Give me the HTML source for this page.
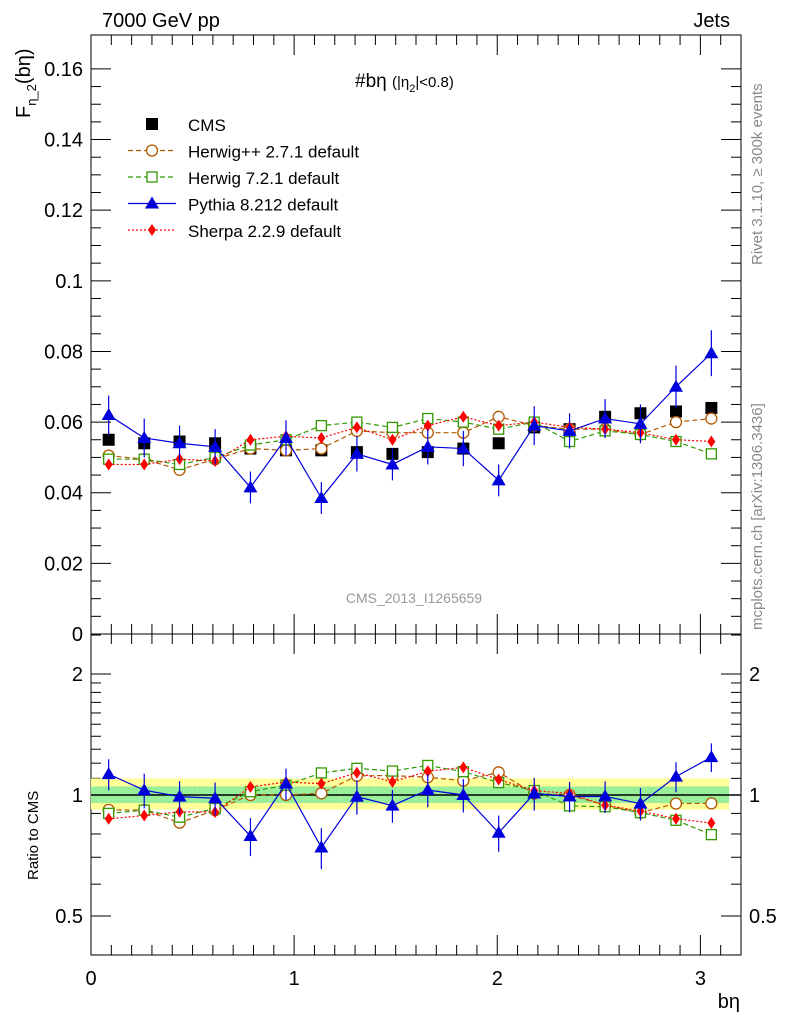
<!DOCTYPE html>
<html><head><meta charset="utf-8"><style>
body{margin:0;background:#fff;}
svg text{font-family:"Liberation Sans",sans-serif;}
</style></head><body>
<svg id="c" width="786" height="1024" xmlns="http://www.w3.org/2000/svg"></svg>
<script>
const xCenters=[0.087,0.262,0.436,0.611,0.785,0.960,1.134,1.309,1.484,1.658,1.833,2.007,2.182,2.356,2.531,2.705,2.880,3.054];
const cmsVals=[0.055,0.054,0.0545,0.054,0.0525,0.052,0.052,0.0515,0.051,0.0515,0.0525,0.054,0.0585,0.058,0.0615,0.0625,0.063,0.064];
const herwigppVals=[0.0505,0.0495,0.0465,0.0495,0.0525,0.052,0.0525,0.0575,0.057,0.057,0.057,0.0615,0.059,0.058,0.058,0.0565,0.060,0.061];
const herwig7Vals=[0.0495,0.0495,0.048,0.050,0.0535,0.055,0.059,0.060,0.0585,0.061,0.060,0.058,0.060,0.0545,0.0575,0.0565,0.0545,0.051];
const pythiaVals=[0.062,0.0555,0.054,0.053,0.0415,0.0555,0.0385,0.051,0.048,0.053,0.0525,0.0435,0.059,0.0575,0.061,0.0595,0.070,0.0795];
const pythiaErr=[0.0055,0.0055,0.005,0.005,0.0045,0.005,0.0045,0.005,0.0045,0.005,0.005,0.0045,0.0055,0.005,0.0055,0.0055,0.006,0.0065];
const sherpaVals=[0.048,0.048,0.0495,0.049,0.055,0.056,0.0555,0.0585,0.055,0.059,0.0615,0.059,0.060,0.0585,0.058,0.057,0.055,0.0545];
const sherpaErr=[0.0012,0.0012,0.0012,0.0012,0.0013,0.0013,0.0013,0.0014,0.0013,0.0014,0.0014,0.0014,0.0014,0.0014,0.0014,0.0014,0.0013,0.0013];
const mainTicks=[0,0.02,0.04,0.06,0.08,0.1,0.12,0.14,0.16];
const mainTickLabels=["0","0.02","0.04","0.06","0.08","0.1","0.12","0.14","0.16"];
const xTicks=[0,1,2,3];
const ratioTicks=[0.5,1,2];

const S=document.getElementById('c');const NS="http://www.w3.org/2000/svg";
function el(t,a,p){const e=document.createElementNS(NS,t);for(const k in a)e.setAttribute(k,a[k]);(p||S).appendChild(e);return e;}
const L=91,R=741,T=35,MB=634,RB=955;
const X=v=>L+v*(R-L)/3.2;
const Y=v=>MB-v*(MB-T)/0.1696;
const YR=v=>795-Math.log2(v)*121;
function txt(x,y,s,a,p){const e=el('text',Object.assign({x:x,y:y},a||{}),p);e.textContent=s;return e;}

// frames
let f=el('rect',{x:L,y:T,width:R-L,height:MB-T,fill:'none',stroke:'#000','stroke-width':1});

f=el('rect',{x:L,y:MB,width:R-L,height:RB-MB,fill:'none',stroke:'#000','stroke-width':1});


// main y ticks
mainTicks.forEach((v,i)=>{el('line',{x1:L,x2:L+20,y1:Y(v),y2:Y(v),stroke:'#000'});el('line',{x1:R,x2:R-20,y1:Y(v),y2:Y(v),stroke:'#000'});
 let t=txt(L-8,Y(v)+7,mainTickLabels[i],{'text-anchor':'end','font-size':20});
 
 if(i<mainTicks.length-1)for(let k=1;k<4;k++){const y=Y(v+0.005*k);el('line',{x1:L,x2:L+10,y1:y,y2:y,stroke:'#000'});el('line',{x1:R,x2:R-10,y1:y,y2:y,stroke:'#000'});}});
// x ticks
for(let v=0;v<=3.2001;v+=0.1){const big=Math.abs(v-Math.round(v))<1e-6,len=big?20:10;
 [[MB,-1],[T,1],[RB,-1]].forEach(([y,d])=>el('line',{x1:X(v),x2:X(v),y1:y,y2:y+d*len,stroke:'#000'}));
 el('line',{x1:X(v),x2:X(v),y1:MB,y2:MB+len,stroke:'#000'});}
xTicks.forEach(v=>{let t=txt(X(v),985,String(v),{'text-anchor':'middle','font-size':20});});
// ratio ticks
[0.4,0.5,0.6,0.7,0.8,0.9,1,1.1,1.2,1.3,1.4,1.5,1.6,1.7,1.8,1.9,2,2.5].forEach(v=>{const big=ratioTicks.includes(v),len=big?20:10;
 el('line',{x1:L,x2:L+len,y1:YR(v),y2:YR(v),stroke:'#000'});el('line',{x1:R,x2:R-len,y1:YR(v),y2:YR(v),stroke:'#000'});});
ratioTicks.forEach(v=>{let t=txt(L-8,YR(v)+7,String(v),{'text-anchor':'end','font-size':20});
 t=txt(R+8,YR(v)+7,String(v),{'font-size':20});});

// ratio bands
const hw=(R-L)/3.2*0.0873;
let gY='',gG='';
xCenters.forEach((x,i)=>{const a=X(x)-hw,b=X(x)+hw;
 let r=el('rect',{x:a,y:YR(1.1),width:b-a,height:YR(0.92)-YR(1.1),fill:'#ffff99'});
 r=el('rect',{x:a,y:YR(1.05),width:b-a,height:YR(0.955)-YR(1.05),fill:'#99ee99'});});
el('line',{x1:L,x2:R,y1:YR(1),y2:YR(1),stroke:'#000','stroke-width':1.5});

function marker(type,x,y,color,p){
 if(type==='sq')return el('rect',{x:x-6,y:y-6,width:12,height:12,fill:'#000'},p);
 if(type==='osq')return el('rect',{x:x-5,y:y-5,width:10,height:10,fill:'#fff',stroke:color,'stroke-width':1.3},p);
 if(type==='oc')return el('circle',{cx:x,cy:y,r:5.5,fill:'#fff',stroke:color,'stroke-width':1.3},p);
 if(type==='tri')return el('polygon',{points:`${x},${y-7} ${x-7},${y+5} ${x+7},${y+5}`,fill:color},p);
 if(type==='dia')return el('polygon',{points:`${x},${y-6} ${x-4},${y} ${x},${y+6} ${x+4},${y}`,fill:color},p);
}
const series=[
 {name:'herwigpp',vals:herwigppVals,err:null,color:'#b35900',m:'oc',dash:'5,3'},
 {name:'herwig7',vals:herwig7Vals,err:null,color:'#339900',m:'osq',dash:'5,3'},
 {name:'sherpa',vals:sherpaVals,err:sherpaErr,color:'#ff0000',m:'dia',dash:'2,2'},
 {name:'pythia',vals:pythiaVals,err:pythiaErr,color:'#0000dd',m:'tri',dash:null}];
function drawSeries(s,ratio){
 const g=el('g',{});
 const yf=ratio?(i=>YR(s.vals[i]/cmsVals[i])):(i=>Y(s.vals[i]));
 const pts=xCenters.map((x,i)=>X(x)+','+yf(i)).join(' ');
 const a={points:pts,fill:'none',stroke:s.color,'stroke-width':1.2};if(s.dash)a['stroke-dasharray']=s.dash;
 el('polyline',a,g);
 xCenters.forEach((x,i)=>{
  if(s.err){const lo=ratio?YR((s.vals[i]-s.err[i])/cmsVals[i]):Y(s.vals[i]-s.err[i]);const hi=ratio?YR((s.vals[i]+s.err[i])/cmsVals[i]):Y(s.vals[i]+s.err[i]);
   el('line',{x1:X(x),x2:X(x),y1:lo,y2:hi,stroke:s.color,'stroke-width':1.2},g);}
  const m=marker(s.m,X(x),yf(i),s.color,g);});
}
const gc=el('g',{});
xCenters.forEach((x,i)=>{const m=marker('sq',X(x),Y(cmsVals[i]),'#000',gc);});
series.forEach(s=>{drawSeries(s,false);drawSeries(s,true);});

// legend
const lg=el('g',{});
const leg=[['sq','#000',null,'CMS'],['oc','#b35900','5,3','Herwig++ 2.7.1 default'],['osq','#339900','5,3','Herwig 7.2.1 default'],['tri','#0000dd',null,'Pythia 8.212 default'],['dia','#ff0000','2,2','Sherpa 2.2.9 default']];
leg.forEach((l,i)=>{const y=124+i*26.5;
 if(i>0){const a={x1:128,x2:176,y1:y,y2:y,stroke:l[1],'stroke-width':1.2};if(l[2])a['stroke-dasharray']=l[2];el('line',a,lg);}
 marker(l[0],152,y,l[1],lg);
 const t=txt(188,y+7,l[3],{'font-size':17},lg);});

// labels
let t;
t=txt(102,27,'7000 GeV pp',{'font-size':20});
t=txt(730,27,'Jets',{'font-size':20,'text-anchor':'end'});
t=txt(355,87,'',{'font-size':19});t.innerHTML='#bη <tspan font-size="15">(|η</tspan><tspan font-size="11" dy="5">2</tspan><tspan font-size="15" dy="-5">|&lt;0.8)</tspan>';
t=txt(414,603,'CMS_2013_I1265659',{'font-size':14,fill:'#999','text-anchor':'middle'});
t=txt(740,1008,'bη',{'font-size':20,'text-anchor':'end'});
t=txt(0,0,'',{'font-size':20,transform:'translate(30,118) rotate(-90)'});t.innerHTML='F<tspan font-size="13" dy="6">η_2</tspan><tspan dy="-6">(bη)</tspan>';
t=txt(0,0,'Ratio to CMS',{'font-size':15,transform:'translate(38,880) rotate(-90)'});
t=txt(0,0,'Rivet 3.1.10, ≥ 300k events',{'font-size':15,fill:'#888',transform:'translate(762,265) rotate(-90)'});
t=txt(0,0,'mcplots.cern.ch [arXiv:1306.3436]',{'font-size':15,fill:'#888',transform:'translate(762,630) rotate(-90)'});
</script>
</body></html>
